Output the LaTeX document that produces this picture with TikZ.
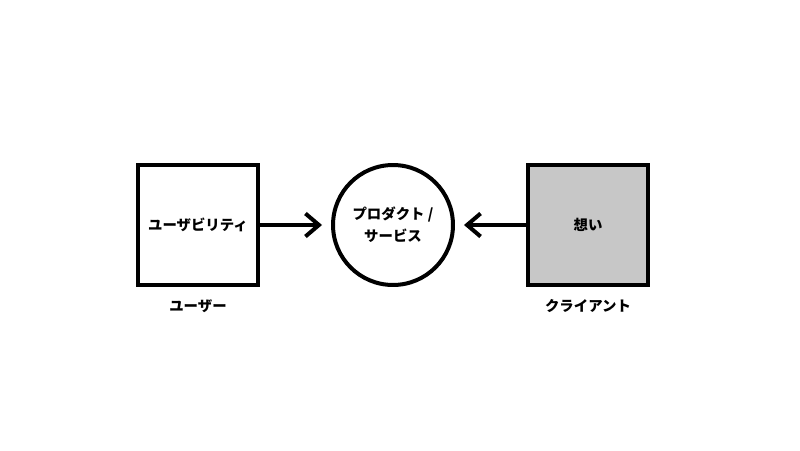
\documentclass[tikz,border=0pt]{standalone}
\usepackage{fontspec}
\setmainfont{Noto Sans CJK JP}[BoldFont={Noto Sans CJK JP Black}]
\usetikzlibrary{positioning,arrows.meta}

\begin{document}
\begin{tikzpicture}[
  x=0.02cm,y=-0.02cm,
  font=\fontsize{8.2pt}{12.5pt}\selectfont\bfseries,
  >={Straight Barb[length=0.27cm,width=0.46cm]},
  base/.style={draw,line width=0.08cm,align=center,minimum size=2.4cm,inner sep=2pt},
  sq/.style={base,rectangle,fill=white},
  sqgray/.style={sq,fill=black!22},
  rnd/.style={base,circle,fill=white},
  lab/.style={inner sep=0pt,align=center},
  flow/.style={->,line width=0.08cm,shorten >=0.18cm},
]
\useasboundingbox (0,0) rectangle (800,450);
% three blocks in one row
\node[sq]     (user)   at (198,225) {ユーザビリティ};
\node[rnd]    (prod)   at (393,225) {プロダクト /\\サービス};
\node[sqgray] (client) at (588,225) {想い};
% captions under the squares
\node[lab,below=0.24cm of user]   (userlab)   {ユーザー};
\node[lab,below=0.24cm of client] (clientlab) {クライアント};
% ---- arrows ----
\draw[flow] (user) -- (prod);
\draw[flow] (client) -- (prod);
\end{tikzpicture}
\end{document}
